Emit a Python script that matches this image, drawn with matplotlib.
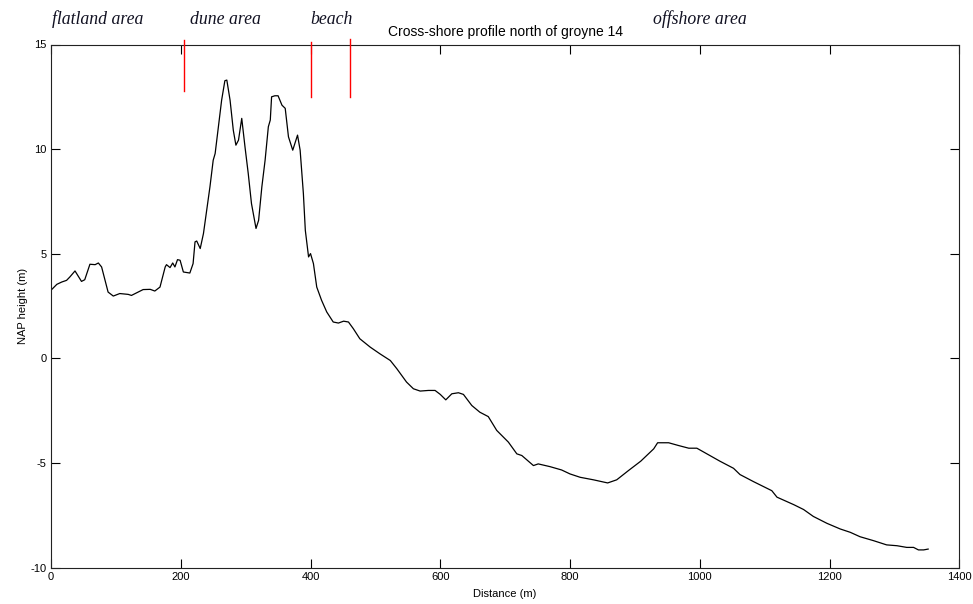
import matplotlib
matplotlib.use("Agg")
import matplotlib.pyplot as plt

# Cross-shore profile (distance in m, NAP height in m)
distance = [1, 9, 16.5, 24, 29, 37, 47, 52, 60, 68, 73, 78, 88, 96, 106, 119, 124,
            142, 153, 160, 168, 176, 178, 183.5, 187.6, 191, 195, 199, 204, 214, 219,
            222, 224.6, 230, 235, 240, 245, 250, 253, 258, 263, 268, 271, 276, 281,
            285, 289, 294, 299, 304, 309, 316, 320, 325, 330, 335, 338, 340, 345, 350,
            356, 361, 366, 372.6, 380, 384, 389, 392, 397, 400, 404.5, 409.6, 417,
            425, 435, 443, 451, 458.5, 466, 476, 492, 507, 523, 533, 548, 558.6, 569,
            581.7, 592, 600, 608.5, 617.8, 628, 635.7, 648.6, 661, 674, 687, 705, 718,
            725.7, 743.6, 751, 769, 787, 800, 815.6, 836, 858, 872, 890, 909, 929, 935,
            952, 967, 983, 995.5, 1011, 1031, 1052, 1062, 1083, 1111, 1119, 1145, 1160,
            1175, 1196, 1216.5, 1232, 1247, 1268, 1288, 1304, 1319, 1329.5, 1337, 1345,
            1352]
height = [3.29, 3.54, 3.65, 3.73, 3.89, 4.18, 3.68, 3.76, 4.5, 4.48, 4.56, 4.37, 3.17,
          2.98, 3.1, 3.06, 3.01, 3.29, 3.3, 3.22, 3.41, 4.37, 4.48, 4.34, 4.56, 4.37,
          4.72, 4.69, 4.13, 4.08, 4.53, 5.57, 5.61, 5.25, 5.97, 7.08, 8.2, 9.47, 9.79,
          11.07, 12.34, 13.27, 13.3, 12.34, 10.9, 10.19, 10.43, 11.47, 10.11, 8.84, 7.4,
          6.21, 6.6, 8.2, 9.47, 11.07, 11.39, 12.5, 12.55, 12.55, 12.1, 11.95, 10.59,
          9.95, 10.67, 9.95, 7.88, 6.12, 4.85, 5.01, 4.53, 3.41, 2.78, 2.22, 1.74, 1.69,
          1.78, 1.74, 1.42, 0.94, 0.54, 0.22, -0.1, -0.49, -1.13, -1.45, -1.56, -1.53,
          -1.53, -1.72, -1.98, -1.69, -1.64, -1.72, -2.25, -2.57, -2.78, -3.44, -4.0,
          -4.56, -4.64, -5.12, -5.04, -5.17, -5.33, -5.52, -5.68, -5.8, -5.95, -5.8,
          -5.36, -4.91, -4.32, -4.03, -4.03, -4.16, -4.29, -4.29, -4.56, -4.91, -5.25,
          -5.55, -5.89, -6.32, -6.63, -6.99, -7.22, -7.55, -7.88, -8.15, -8.31, -8.52,
          -8.71, -8.91, -8.95, -9.03, -9.03, -9.15, -9.15, -9.11]

# Zone boundary markers (red)
boundary_x = [205, 401, 461]
boundary_bottom = [12.8, 12.5, 12.5]
boundary_top = [15.2, 15.1, 15.25]

# Zone labels
zone_labels = ["flatland area", "dune area", "beach", "offshore area"]
zone_label_x = [1.5, 214, 399, 928]

x_ticks = [0, 200, 400, 600, 800, 1000, 1200, 1400]
y_ticks = [-10, -5, 0, 5, 10, 15]

plt.rcParams['font.family'] = ['Liberation Sans', 'DejaVu Sans']
plt.rcParams['axes.unicode_minus'] = False

fig = plt.figure(figsize=(9.73, 6.04), dpi=100)
ax = fig.add_axes([51/973, 1 - 567.7/604, (959.3 - 51)/973, (567.7 - 44.5)/604])

ax.plot(distance, height, color='black', lw=0.9)

for bx, bb, bt in zip(boundary_x, boundary_bottom, boundary_top):
    ax.plot([bx, bx], [bb, bt], color='red', lw=1.0, clip_on=False, zorder=5)

for lab, lx in zip(zone_labels, zone_label_x):
    ax.text(lx, 15.98, lab, fontsize=12.8, style='italic',
            family=['Liberation Serif', 'DejaVu Serif'], color='#111122',
            va='baseline', ha='left', clip_on=False)

ax.set_xlim(0, 1400)
ax.set_ylim(-10, 15)
ax.set_xticks(x_ticks)
ax.set_yticks(y_ticks)
ax.tick_params(direction='in', length=6.5, width=0.8, labelsize=8,
               top=True, right=True, color='black', pad=3)
for sp in ax.spines.values():
    sp.set_linewidth(0.8)
    sp.set_color('#222222')

ax.set_title('Cross-shore profile north of groyne 14', fontsize=10, pad=6)
ax.set_xlabel('Distance (m)', fontsize=8, labelpad=5)
ax.set_ylabel('NAP height (m)', fontsize=8, labelpad=2)

fig.savefig('out.png', dpi=100)
